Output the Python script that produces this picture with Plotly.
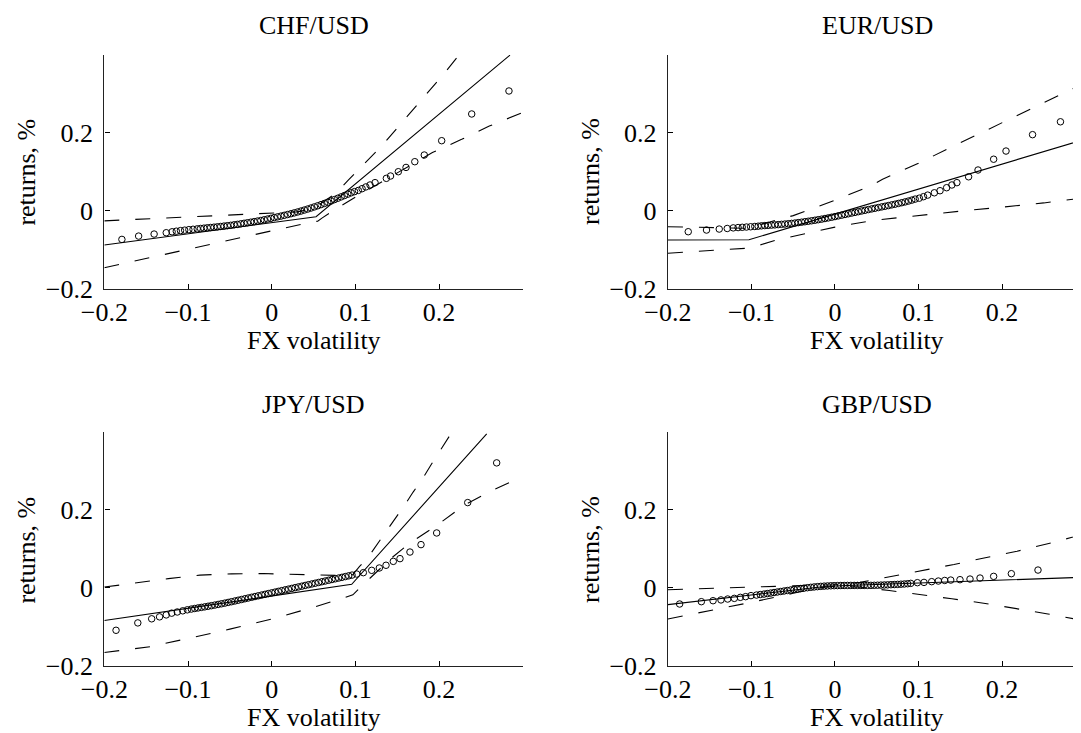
import plotly.graph_objects as go

# ---------------- data ----------------
xtick_vals = [-0.2, -0.1, 0.0, 0.1, 0.2]
xtick_text = ["\u22120.2", "\u22120.1", "0", "0.1", "0.2"]
ytick_vals = [-0.2, 0.0, 0.2]
ytick_text = ["\u22120.2", "0", "0.2"]
titles = ["CHF/USD", "EUR/USD", "JPY/USD", "GBP/USD"]

# CHF/USD
chf_qx = [-0.179, -0.159, -0.1405, -0.126, -0.119, -0.114, -0.109, -0.104, -0.099, -0.094, -0.089, -0.085,
          -0.081, -0.077, -0.073, -0.069, -0.065, -0.061, -0.057, -0.053, -0.049, -0.045, -0.041, -0.037,
          -0.033, -0.029, -0.025, -0.021, -0.017, -0.013, -0.009, -0.005, -0.001, 0.003, 0.007, 0.011,
          0.015, 0.019, 0.023, 0.027, 0.031, 0.035, 0.039, 0.043, 0.047, 0.051, 0.055, 0.059, 0.063,
          0.067, 0.071, 0.075, 0.079, 0.083, 0.087, 0.091, 0.095, 0.099, 0.1035, 0.108, 0.1125, 0.1175,
          0.1235, 0.137, 0.142, 0.1513, 0.1605, 0.171, 0.1823, 0.2031, 0.239, 0.2835]
chf_qy = [-0.0735, -0.065, -0.0598, -0.0564, -0.054, -0.0525, -0.051, -0.0498, -0.0485, -0.0475, -0.0465, -0.0455,
          -0.0447, -0.0438, -0.043, -0.0422, -0.0413, -0.0404, -0.0394, -0.0384, -0.0374, -0.0362, -0.035, -0.0336,
          -0.0322, -0.0308, -0.0294, -0.028, -0.0265, -0.025, -0.0232, -0.0213, -0.0195, -0.0176, -0.0157, -0.0138,
          -0.0118, -0.0098, -0.0077, -0.0055, -0.0032, -0.0008, 0.0017, 0.0043, 0.007, 0.0098, 0.0127, 0.0157, 0.0187,
          0.0218, 0.025, 0.0285, 0.032, 0.0355, 0.039, 0.0425, 0.046, 0.049, 0.052, 0.0565, 0.061, 0.066,
          0.072, 0.083, 0.089, 0.100, 0.111, 0.1257, 0.1428, 0.1795, 0.248, 0.307]
chf_fit_x = [-0.2, 0.053, 0.2847]
chf_fit_y = [-0.088, -0.0154, 0.399]
chf_up_x = [-0.2, -0.1, 0.0, 0.03, 0.048, 0.062, 0.078, 0.0915, 0.1315, 0.1565, 0.1811, 0.207, 0.2238]
chf_up_y = [-0.026, -0.016, -0.007, -0.003, 0.004, 0.023, 0.047, 0.0787, 0.166, 0.228, 0.291, 0.354, 0.399]
chf_lo_x = [-0.2, -0.15, -0.1, -0.05, 0.0, 0.05, 0.055, 0.06, 0.0757, 0.1, 0.15, 0.192, 0.227, 0.26, 0.3]
chf_lo_y = [-0.146, -0.122, -0.098, -0.074, -0.051, -0.028, -0.027, -0.019, 0.003, 0.035, 0.097, 0.149, 0.183, 0.217, 0.252]

# EUR/USD
eur_qx = [-0.1757, -0.1538, -0.1386, -0.129, -0.1218, -0.116, -0.111, -0.106, -0.101, -0.096, -0.092, -0.088,
          -0.084, -0.080, -0.076, -0.072, -0.068, -0.064, -0.060, -0.056, -0.052, -0.048, -0.044, -0.040,
          -0.036, -0.032, -0.028, -0.024, -0.020, -0.016, -0.012, -0.008, -0.004, 0.000, 0.004, 0.008,
          0.012, 0.016, 0.020, 0.024, 0.028, 0.032, 0.036, 0.040, 0.044, 0.048, 0.052, 0.056, 0.060,
          0.064, 0.068, 0.072, 0.076, 0.080, 0.084, 0.088, 0.092, 0.096, 0.101, 0.106, 0.111, 0.119,
          0.1258, 0.1337, 0.140, 0.146, 0.160, 0.1713, 0.190, 0.2048, 0.2366, 0.270]
eur_qy = [-0.0538, -0.0495, -0.047, -0.0455, -0.044, -0.0432, -0.0425, -0.0418, -0.0411, -0.0404, -0.0397, -0.0387,
          -0.0381, -0.0375, -0.0369, -0.0363, -0.0356, -0.0349, -0.0342, -0.0334, -0.0325, -0.0316, -0.0305, -0.0294,
          -0.0282, -0.027, -0.0257, -0.0244, -0.023, -0.0216, -0.0200, -0.0184, -0.0167, -0.015, -0.0132, -0.0114,
          -0.0096, -0.0078, -0.006, -0.0042, -0.0024, -0.0006, 0.0012, 0.003, 0.0047, 0.0064, 0.0081, 0.0098, 0.0115,
          0.0132, 0.015, 0.0168, 0.0187, 0.0206, 0.0226, 0.0248, 0.0272, 0.0298, 0.0322, 0.036, 0.040, 0.046,
          0.0513, 0.059, 0.066, 0.072, 0.087, 0.1044, 0.132, 0.153, 0.195, 0.228]
eur_fit_x = [-0.2, -0.103, 0.2946]
eur_fit_y = [-0.075, -0.0745, 0.180]
eur_up_x = [-0.2, -0.15, -0.105, -0.08, -0.05, 0.0, 0.04, 0.057, 0.1, 0.15, 0.2, 0.25, 0.2946]
eur_up_y = [-0.041, -0.044, -0.045, -0.03, -0.0125, 0.027, 0.061, 0.0805, 0.122, 0.174, 0.226, 0.278, 0.323]
eur_lo_x = [-0.2, -0.15, -0.105, -0.09, -0.07, -0.04, 0.0, 0.045, 0.1, 0.15, 0.2, 0.25, 0.2946]
eur_lo_y = [-0.109, -0.102, -0.096, -0.088, -0.075, -0.061, -0.042, -0.025, -0.012, -0.001, 0.009, 0.020, 0.032]

# JPY/USD
jpy_qx = [-0.186, -0.160, -0.1434, -0.134, -0.126, -0.1195, -0.1128, -0.1063, -0.1008, -0.096, -0.092, -0.088,
          -0.084, -0.080, -0.076, -0.072, -0.068, -0.064, -0.060, -0.056, -0.052, -0.048, -0.044, -0.040,
          -0.036, -0.032, -0.028, -0.024, -0.020, -0.016, -0.012, -0.008, -0.004, 0.000, 0.004, 0.008,
          0.012, 0.016, 0.020, 0.024, 0.028, 0.032, 0.036, 0.040, 0.044, 0.048, 0.052, 0.056, 0.060,
          0.064, 0.068, 0.072, 0.076, 0.080, 0.084, 0.088, 0.092, 0.096, 0.1016, 0.1095, 0.1195, 0.1286,
          0.1366, 0.1453, 0.1533, 0.1652, 0.1784, 0.1971, 0.2342, 0.2688]
jpy_qy = [-0.109, -0.090, -0.0795, -0.0745, -0.0695, -0.065, -0.062, -0.059, -0.0564, -0.0545, -0.053, -0.0516,
          -0.0502, -0.0488, -0.0473, -0.0458, -0.0442, -0.0426, -0.0409, -0.0392, -0.0374, -0.0356, -0.0337, -0.0318,
          -0.0299, -0.028, -0.0261, -0.0242, -0.0223, -0.0204, -0.0185, -0.0166, -0.0147, -0.0128, -0.0109, -0.009,
          -0.0071, -0.0052, -0.0033, -0.0014, 0.0005, 0.0024, 0.0043, 0.0062, 0.0081, 0.010, 0.0119, 0.0138, 0.0157,
          0.0176, 0.0195, 0.0214, 0.0233, 0.0252, 0.0271, 0.029, 0.0309, 0.0328, 0.0355, 0.039, 0.045, 0.051,
          0.058, 0.068, 0.075, 0.092, 0.111, 0.141, 0.219, 0.321]
jpy_fit_x = [-0.2, 0.0956, 0.2569]
jpy_fit_y = [-0.084, 0.009, 0.3956]
jpy_up_x = [-0.2, -0.161, -0.1235, -0.0857, -0.048, -0.01, 0.028, 0.05, 0.067, 0.093, 0.097, 0.105, 0.115,
            0.127, 0.139, 0.149, 0.159, 0.169, 0.181, 0.191, 0.201, 0.213]
jpy_up_y = [0.002, 0.0136, 0.0238, 0.0327, 0.036, 0.0367, 0.035, 0.034, 0.032, 0.031, 0.034, 0.055, 0.078,
            0.115, 0.150, 0.182, 0.213, 0.246, 0.283, 0.318, 0.352, 0.392]
jpy_lo_x = [-0.2, -0.145, -0.1, -0.05, 0.0, 0.05, 0.075, 0.097, 0.108, 0.125, 0.145, 0.165, 0.197, 0.231, 0.263, 0.3]
jpy_lo_y = [-0.166, -0.151, -0.130, -0.106, -0.080, -0.050, -0.033, -0.018, 0.006, 0.039, 0.080, 0.115, 0.160, 0.2136, 0.25, 0.286]

# GBP/USD
gbp_qx = [-0.186, -0.160, -0.146, -0.1365, -0.1285, -0.1205, -0.1133, -0.107, -0.1006, -0.094, -0.0895, -0.085,
          -0.081, -0.077, -0.073, -0.069, -0.065, -0.061, -0.057, -0.053, -0.049, -0.045, -0.041, -0.037,
          -0.033, -0.029, -0.025, -0.021, -0.017, -0.013, -0.009, -0.005, -0.001, 0.003, 0.007, 0.011,
          0.015, 0.019, 0.023, 0.027, 0.031, 0.035, 0.039, 0.043, 0.047, 0.051, 0.055, 0.059, 0.063,
          0.067, 0.071, 0.075, 0.079, 0.083, 0.087, 0.0907, 0.0987, 0.1066, 0.1158, 0.1238, 0.1314, 0.1386,
          0.1497, 0.1617, 0.1737, 0.190, 0.2112, 0.2431, 0.297]
gbp_qy = [-0.0415, -0.0355, -0.033, -0.031, -0.0287, -0.027, -0.0244, -0.0226, -0.020, -0.0185, -0.0172, -0.016,
          -0.0147, -0.0134, -0.012, -0.0107, -0.0094, -0.0081, -0.0068, -0.0055, -0.0042, -0.003, -0.0018, -0.0007,
          0.0004, 0.0014, 0.0023, 0.0031, 0.0038, 0.0044, 0.0049, 0.0053, 0.0056, 0.0058, 0.006, 0.0061,
          0.0062, 0.0062, 0.0062, 0.0062, 0.0062, 0.0062, 0.0063, 0.0064, 0.0066, 0.0068, 0.0071, 0.0074, 0.0077,
          0.0081, 0.0085, 0.0089, 0.0094, 0.0099, 0.0106, 0.0115, 0.0133, 0.014, 0.0159, 0.0175, 0.019, 0.020,
          0.021, 0.0226, 0.0252, 0.0295, 0.0364, 0.0457, 0.0159]
gbp_fit_x = [-0.2, -0.01, 0.2946]
gbp_fit_y = [-0.043, 0.004, 0.027]
gbp_up_x = [-0.2, -0.15, -0.1, -0.05, 0.0, 0.03, 0.0667, 0.1047, 0.1425, 0.180, 0.218, 0.256, 0.2946]
gbp_up_y = [-0.005, -0.001, 0.002, 0.005, 0.008, 0.014, 0.0287, 0.043, 0.060, 0.0774, 0.094, 0.114, 0.136]
gbp_lo_x = [-0.2, -0.15, -0.1, -0.05, -0.02, 0.0, 0.03, 0.065, 0.1, 0.14, 0.18, 0.22, 0.255, 0.2946]
gbp_lo_y = [-0.080, -0.059, -0.037, -0.014, 0.000, 0.004, 0.002, -0.007, -0.016, -0.028, -0.040, -0.054, -0.067, -0.083]

panels = [
    (chf_qx, chf_qy, chf_fit_x, chf_fit_y, chf_up_x, chf_up_y, chf_lo_x, chf_lo_y),
    (eur_qx, eur_qy, eur_fit_x, eur_fit_y, eur_up_x, eur_up_y, eur_lo_x, eur_lo_y),
    (jpy_qx, jpy_qy, jpy_fit_x, jpy_fit_y, jpy_up_x, jpy_up_y, jpy_lo_x, jpy_lo_y),
    (gbp_qx, gbp_qy, gbp_fit_x, gbp_fit_y, gbp_up_x, gbp_up_y, gbp_lo_x, gbp_lo_y),
]

# ---------------- layout geometry ----------------
# The page body has an 8px margin, so paper pixel = screen pixel - 8.
W, H = 1081, 733
FONT = "Liberation Serif"
FS = 26
x_domains = [[0.0891, 0.4762], [0.6105, 0.9926], [0.0891, 0.4762], [0.6105, 0.9926]]
x_ranges = [[-0.2, 0.3], [-0.2, 0.2946], [-0.2, 0.3], [-0.2, 0.2946]]
y_domains = [[0.6170, 0.9363], [0.6170, 0.9363], [0.1027, 0.4214], [0.1027, 0.4214]]

fig = go.Figure()
DASH = "15px,16px"
for i, (qx, qy, fx, fy, ux, uy, lx, ly) in enumerate(panels):
    ax = "" if i == 0 else str(i + 1)
    common = dict(xaxis="x" + ax, yaxis="y" + ax, showlegend=False, hoverinfo="skip")
    fig.add_trace(go.Scatter(x=ux, y=uy, mode="lines", line=dict(color="black", width=1.1, dash=DASH), **common))
    fig.add_trace(go.Scatter(x=lx, y=ly, mode="lines", line=dict(color="black", width=1.1, dash=DASH), **common))
    fig.add_trace(go.Scatter(x=fx, y=fy, mode="lines", line=dict(color="black", width=1.1), **common))
    fig.add_trace(go.Scatter(x=qx, y=qy, mode="markers",
                             marker=dict(symbol="circle-open", size=6.5, color="black", line=dict(width=1)),
                             **common))

layout = dict(
    width=W, height=H, autosize=False,
    margin=dict(l=0, r=0, t=0, b=0, autoexpand=False),
    paper_bgcolor="white", plot_bgcolor="white",
    font=dict(family=FONT, size=FS, color="black"),
)
for i in range(4):
    ax = "" if i == 0 else str(i + 1)
    layout["xaxis" + ax] = dict(
        domain=x_domains[i], range=x_ranges[i], anchor="y" + ax, automargin=False,
        tickmode="array", tickvals=xtick_vals, ticktext=xtick_text,
        ticks="inside", ticklen=5, tickwidth=1, tickcolor="black",
        showline=True, linecolor="#222222", linewidth=1.4, mirror=False,
        showgrid=False, zeroline=False, ticklabelstandoff=0,
        tickfont=dict(family=FONT, size=FS, color="black"),
    )
    layout["yaxis" + ax] = dict(
        domain=y_domains[i], range=[-0.2, 0.4], anchor="x" + ax, automargin=False,
        tickmode="array", tickvals=ytick_vals, ticktext=ytick_text,
        ticks="inside", ticklen=5, tickwidth=1, tickcolor="black",
        showline=True, linecolor="#222222", linewidth=1.4, mirror=False,
        showgrid=False, zeroline=False, ticklabelstandoff=5,
        tickfont=dict(family=FONT, size=FS, color="black"),
    )

title_x = [305.5 / W, 869.0 / W, 305.5 / W, 869.0 / W]
title_y = [1 - 17.8 / H, 1 - 17.8 / H, 1 - 396 / H, 1 - 396 / H]
xlab_y = [1 - 332.8 / H, 1 - 332.8 / H, 1 - 709.7 / H, 1 - 709.7 / H]
ylab_x = [17.6 / W, 582.0 / W, 17.6 / W, 582.0 / W]
ylab_y = [1 - 164 / H, 1 - 164 / H, 1 - 542 / H, 1 - 542 / H]

annotations = []
for i in range(4):
    annotations.append(dict(text=titles[i], x=title_x[i], y=title_y[i], xref="paper", yref="paper",
                            xanchor="center", yanchor="middle", showarrow=False,
                            font=dict(family=FONT, size=FS, color="black")))
    annotations.append(dict(text="FX volatility", x=title_x[i], y=xlab_y[i], xref="paper", yref="paper",
                            xanchor="center", yanchor="middle", showarrow=False,
                            font=dict(family=FONT, size=FS, color="black")))
    annotations.append(dict(text="returns, %", x=ylab_x[i], y=ylab_y[i], xref="paper", yref="paper",
                            xanchor="center", yanchor="middle", showarrow=False, textangle=-90,
                            font=dict(family=FONT, size=FS, color="black")))
layout["annotations"] = annotations

fig.update_layout(**layout)
fig.write_html("out.html")
